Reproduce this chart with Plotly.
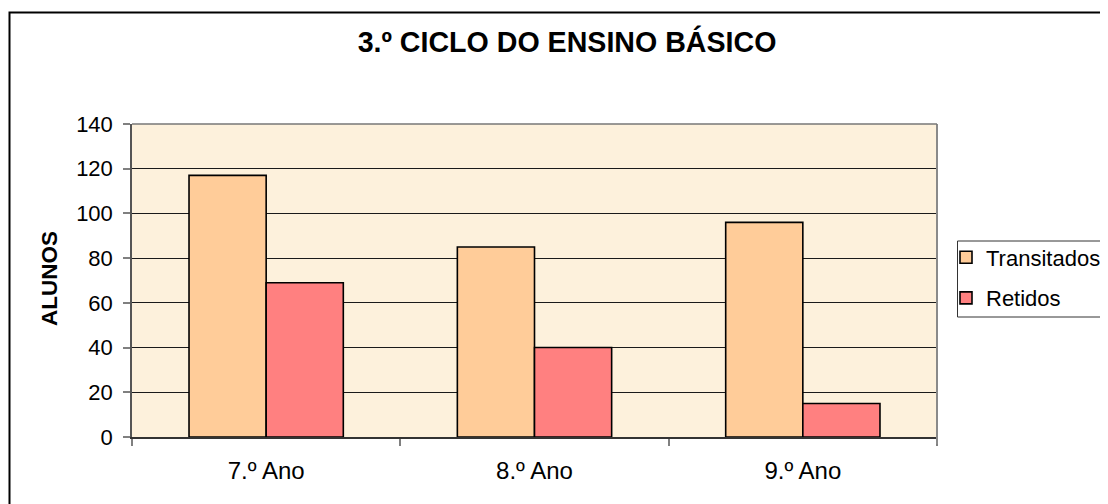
import plotly.graph_objects as go

categories = ["7.º Ano", "8.º Ano", "9.º Ano"]
transitados = [117, 85, 96]
retidos = [69, 40, 15]
series_names = ["Transitados", "Retidos"]
series_colors = ["#FFCC99", "#FF8080"]
y_ticks = [0, 20, 40, 60, 80, 100, 120, 140]

# page offset (browser body margin)
OFF = 8
W, H = 1108 - OFF, 504 - OFF
# plot area in page pixels
PL, PR, PT, PB = 132, 937, 124, 437
L, R, T, B = PL - OFF, PR - OFF, PT - OFF, PB - OFF

def px_x(p):  # page x -> paper
    return (p - PL) / (PR - PL)

def px_y(p):  # page y -> paper
    return (PB - p) / (PB - PT)

FONT = "Liberation Sans, Arial, sans-serif"

fig = go.Figure()
for name, vals, col, grp in zip(series_names, [transitados, retidos], series_colors, ["a", "b"]):
    fig.add_trace(go.Bar(
        x=categories, y=vals, name=name, legendgroup=grp,
        marker=dict(color=col, line=dict(color="#000000", width=1.6)),
    ))

fig.update_layout(
    width=W, height=H,
    margin=dict(l=L, r=W - R, t=T, b=H - B, autoexpand=False),
    paper_bgcolor="white",
    plot_bgcolor="#FDF1DC",
    barmode="group", bargap=0.425, bargroupgap=0,
    font=dict(family=FONT, size=22, color="#000000"),
    showlegend=True,
    legend=dict(
        x=px_x(946), xanchor="left", y=px_y(236.5), yanchor="top",
        bgcolor="rgba(0,0,0,0)", borderwidth=0,
        font=dict(family=FONT, size=22, color="#000000"),
        tracegroupgap=9,
    ),
    title=dict(
        text="<b>3.º CICLO DO ENSINO BÁSICO</b>",
        font=dict(family=FONT, size=28.6, color="#000000"),
        xref="container", x=(567 - OFF) / W, xanchor="center",
        yref="container", y=1 - (41.5 - OFF) / H, yanchor="middle",
    ),
)

fig.update_xaxes(
    type="category",
    showline=True, linecolor="#333333", linewidth=1.5,
    ticks="outside", tickson="boundaries", ticklen=7, tickcolor="#808080", tickwidth=1.5,
    showgrid=False,
    tickfont=dict(family=FONT, size=24, color="#000000"),
    ticklabelstandoff=11,
)
fig.update_yaxes(
    range=[0, 140], tickvals=y_ticks,
    showline=True, linecolor="#555555", linewidth=1.5,
    ticks="outside", ticklen=7, tickcolor="#808080", tickwidth=1.5,
    showgrid=True, gridcolor="#1a1a1a", gridwidth=1,
    zeroline=False,
    tickfont=dict(family=FONT, size=22, color="#000000"),
    ticklabelstandoff=6,
)

# y axis title
fig.add_annotation(
    text="<b>ALUNOS</b>", textangle=-90,
    xref="paper", yref="paper", x=px_x(49), y=px_y(279),
    xanchor="center", yanchor="middle", showarrow=False,
    font=dict(family=FONT, size=22.5, color="#000000"),
)

# right border of plot area
fig.add_shape(type="line", xref="paper", yref="paper",
              x0=1, x1=1, y0=px_y(444), y1=1,
              line=dict(color="#8a8a8a", width=2))
# top border of plot area (gray)
fig.add_shape(type="line", xref="paper", yref="paper",
              x0=0, x1=1, y0=1, y1=1,
              line=dict(color="#777777", width=1.5))

# legend box
fig.add_shape(type="rect", xref="paper", yref="paper",
              x0=px_x(957.5), x1=px_x(1130), y0=px_y(317), y1=px_y(241),
              line=dict(color="#333333", width=1), fillcolor="white",
              layer="below")

# outer chart border
fig.add_shape(type="rect", xref="paper", yref="paper",
              x0=px_x(9.5), x1=px_x(1130), y0=px_y(530), y1=px_y(12.5),
              line=dict(color="#000000", width=2), fillcolor="rgba(0,0,0,0)",
              layer="below")
# black strip at top
fig.add_shape(type="rect", xref="paper", yref="paper",
              x0=px_x(409), x1=px_x(724), y0=px_y(3.5), y1=px_y(-10),
              line=dict(width=0), fillcolor="#000000")

fig.write_html("out.html")
